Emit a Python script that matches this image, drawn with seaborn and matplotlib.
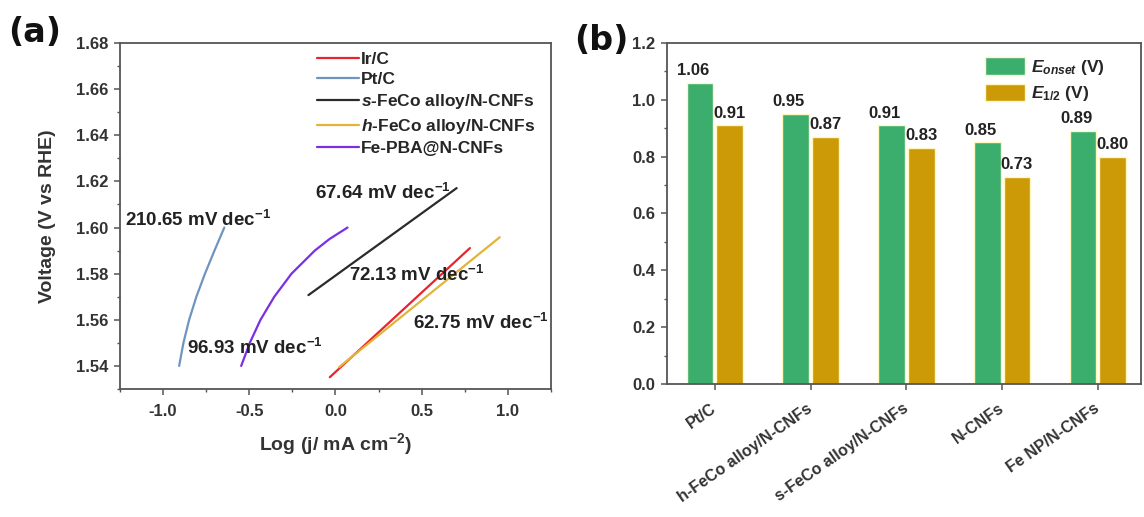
import numpy as np
import pandas as pd
import matplotlib
matplotlib.use("Agg")
import matplotlib.pyplot as plt
from matplotlib.ticker import MultipleLocator
import seaborn as sns

# ---------------- data: panel (a) Tafel plots ----------------
series_names = ["Ir/C", "Pt/C", "s-FeCo alloy/N-CNFs", "h-FeCo alloy/N-CNFs", "Fe-PBA@N-CNFs"]
irc_x = [-0.033, 0.78]
irc_y = [1.5351, 1.5911]
ptc_x = [-0.907, -0.882, -0.849, -0.807, -0.757, -0.702, -0.645]
ptc_y = [1.540, 1.550, 1.560, 1.570, 1.580, 1.590, 1.600]
sfeco_x = [-0.157, 0.703]
sfeco_y = [1.5707, 1.6171]
hfeco_x = [0.02, 0.953]
hfeco_y = [1.5394, 1.5958]
fepba_x = [-0.547, -0.497, -0.435, -0.355, -0.255, -0.12, -0.035, 0.07]
fepba_y = [1.540, 1.550, 1.560, 1.570, 1.580, 1.590, 1.595, 1.600]

tafel_labels = ["210.65 mV dec$^{-1}$", "67.64 mV dec$^{-1}$", "72.13 mV dec$^{-1}$",
                "62.75 mV dec$^{-1}$", "96.93 mV dec$^{-1}$"]
tafel_label_x = [-1.221, -0.116, 0.076, 0.448, -0.86]
tafel_label_y = [1.6032, 1.6149, 1.5793, 1.5585, 1.5477]

# ---------------- data: panel (b) ORR potentials ----------------
catalysts = ["Pt/C", "h-FeCo alloy/N-CNFs", "s-FeCo alloy/N-CNFs", "N-CNFs", "Fe NP/N-CNFs"]
e_onset = [1.06, 0.95, 0.91, 0.85, 0.89]
e_half = [0.91, 0.87, 0.83, 0.73, 0.80]

# ---------------- style ----------------
sns.set_theme(style="ticks")
plt.rcParams.update({
    "font.family": ["Liberation Sans", "DejaVu Sans"],
    "font.weight": "bold",
    "axes.labelweight": "bold",
    "axes.unicode_minus": False,
    "mathtext.fontset": "custom",
    "mathtext.default": "regular",
    "mathtext.it": "Liberation Sans:italic:bold",
    "mathtext.rm": "Liberation Sans:bold",
    "mathtext.bf": "Liberation Sans:bold",
    "axes.edgecolor": "#555555",
    "axes.linewidth": 1.3,
    "xtick.color": "#555555",
    "ytick.color": "#555555",
    "xtick.labelcolor": "#333333",
    "ytick.labelcolor": "#333333",
})

fig = plt.figure(figsize=(11.44, 5.17), dpi=100)
ax1 = fig.add_axes([0.1049, 0.2476, 0.3767, 0.6692])
ax2 = fig.add_axes([0.5830, 0.2573, 0.4143, 0.6596])

# ---------------- panel (a) ----------------
line_colors = ["#E8242E", "#6F94C0", "#2B2B2B", "#E3B33A", "#7B2FE0"]
xs = [irc_x, ptc_x, sfeco_x, hfeco_x, fepba_x]
ys = [irc_y, ptc_y, sfeco_y, hfeco_y, fepba_y]
frames = []
for name, x, y in zip(series_names, xs, ys):
    frames.append(pd.DataFrame({"logj": x, "voltage": y, "sample": name}))
df_a = pd.concat(frames, ignore_index=True)

sns.lineplot(data=df_a, x="logj", y="voltage", hue="sample", hue_order=series_names,
             palette=dict(zip(series_names, line_colors)), estimator=None,
             linewidth=1.6, ax=ax1)

ax1.set_xlim(-1.25, 1.25)
ax1.set_ylim(1.53, 1.68)
ax1.xaxis.set_major_locator(MultipleLocator(0.5))
ax1.xaxis.set_minor_locator(MultipleLocator(0.25))
ax1.yaxis.set_major_locator(MultipleLocator(0.02))
ax1.yaxis.set_minor_locator(MultipleLocator(0.01))
ax1.tick_params(which="major", direction="out", length=4.5, width=1.1, labelsize=12, pad=4)
ax1.tick_params(axis="x", which="major", pad=6)
ax1.tick_params(which="minor", direction="out", length=2.5, width=1.0)
ax1.set_xlabel("Log (j/ mA cm$^{-2}$)", fontsize=14, labelpad=9, color="#333333")
ax1.set_ylabel("Voltage (V vs RHE)", fontsize=14, labelpad=14, color="#333333")

for txt, tx, ty in zip(tafel_labels, tafel_label_x, tafel_label_y):
    ax1.text(tx, ty, txt, ha="left", va="center", fontsize=13.5, fontweight="bold", color="#222222")

legend_labels = ["Ir/C", "Pt/C", r"$\mathit{s}$-FeCo alloy/N-CNFs",
                 r"$\mathit{h}$-FeCo alloy/N-CNFs", "Fe-PBA@N-CNFs"]
handles, _ = ax1.get_legend_handles_labels()
ax1.legend(handles, legend_labels, loc="upper left", bbox_to_anchor=(0.457, 0.975),
           frameon=False, fontsize=12.5, handlelength=2.4, handletextpad=0.15,
           labelspacing=0.3, borderpad=0, borderaxespad=0)

# ---------------- panel (b) ----------------
lab_onset = r"$\mathit{E}_{\mathit{onset}}$ (V)"
lab_half = r"$\mathit{E}_{\mathit{1/2}}$ (V)"
df_b = pd.DataFrame({
    "catalyst": catalysts * 2,
    "value": e_onset + e_half,
    "metric": [lab_onset] * len(catalysts) + [lab_half] * len(catalysts),
})
bar_colors = ["#3BAE6E", "#CC9A06"]
sns.barplot(data=df_b, x="catalyst", y="value", hue="metric", order=catalysts,
            hue_order=[lab_onset, lab_half], palette=bar_colors, saturation=1,
            width=0.62, gap=0.1, edgecolor="#FFF6C0", linewidth=1.0, ax=ax2)

ax2.set_xlim(-0.5, 4.45)
ax2.set_ylim(0, 1.2)
ax2.yaxis.set_major_locator(MultipleLocator(0.2))
ax2.yaxis.set_minor_locator(MultipleLocator(0.1))
ax2.tick_params(which="major", direction="out", length=4.5, width=1.1, labelsize=12, pad=4)
ax2.tick_params(which="minor", axis="y", direction="out", length=2.5, width=1.0)
ax2.tick_params(axis="x", labelsize=11.5, pad=12)
ax2.set_xlabel("")
ax2.set_ylabel("")
for lbl in ax2.get_xticklabels():
    lbl.set_rotation(35)
    lbl.set_ha("right")
    lbl.set_va("center")
    lbl.set_rotation_mode("anchor")

offsets = [-5, 0]
for cont, dx in zip(ax2.containers, offsets):
    for p in cont.patches:
        ax2.annotate(f"{p.get_height():.2f}", (p.get_x() + p.get_width() / 2, p.get_height()),
                     xytext=(dx, 3.5), textcoords="offset points", ha="center", va="bottom",
                     fontsize=12, fontweight="bold", color="#222222")

ax2.legend(loc="upper left", bbox_to_anchor=(0.672, 0.958), frameon=False, fontsize=12.5,
           handlelength=2.3, handleheight=1.15, handletextpad=0.35, labelspacing=0.4,
           borderpad=0, borderaxespad=0)

# panel labels
fig.text(35 / 1144, 1 - 33 / 517, "(a)", family="DejaVu Sans", fontweight="bold",
         fontsize=24, ha="center", va="center", color="#111111")
fig.text(601 / 1144, 1 - 41 / 517, "(b)", family="DejaVu Sans", fontweight="bold",
         fontsize=24, ha="center", va="center", color="#111111")

fig.savefig("out.png", dpi=100)
